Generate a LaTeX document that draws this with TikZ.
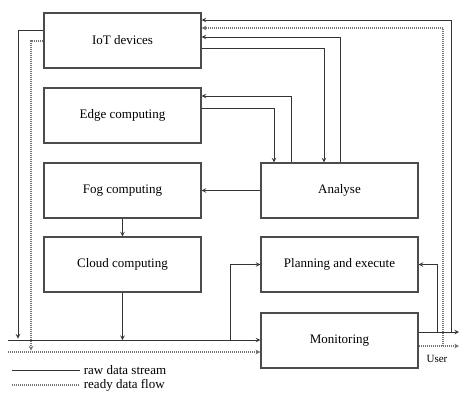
\documentclass[tikz,border=0pt]{standalone}
\usepackage{fontspec}
\setmainfont{Liberation Serif}
\usetikzlibrary{calc}

\begin{document}
\begin{tikzpicture}[x=1pt, y=-1pt,
		box/.style={draw=black!70, line width=1.3pt, minimum width=157pt, minimum height=55pt, font=\fontsize{13}{15}\selectfont},
		raw/.style={draw=black!80, line width=1pt},
		ready/.style={draw=black!55, line width=1.1pt, dash pattern=on 1pt off 1pt},
		>=stealth]
		%%%%% START %%%%%
		
		\useasboundingbox (0,0) rectangle (460,394);
		
		\node[box] (iot) at (122.5, 40.5) {IoT devices};
		\node[box] (edge) at (122.5, 115.5) {Edge computing};
		\node[box] (fog) at (122.5, 190.5) {Fog computing};
		\node[box] (cloud) at (122.5, 264.5) {Cloud computing};
		
		\node[box] (analyse) at (339.5, 190.5) {Analyse};
		\node[box] (plan) at (339.5, 264.5) {Planning and execute};
		\node[box] (mon) at (339.5, 340.5) {Monitoring};
		
		\coordinate (rawin) at (8, 340);
		\coordinate (readyin) at (8, 352);
		\coordinate (rawout) at (459, 332);
		\coordinate (readyout) at (459, 346);
		\node[font=\fontsize{11}{13}\selectfont] (user) at (437, 359) {User};
		
		% inputs of monitoring
		\draw[raw, ->] (rawin) -- (rawin -| mon.west);
		\draw[ready, ->] (readyin) -- (readyin -| mon.west);
		\draw[raw, ->] (iot.west |- 0,30) -| (18, 338.5);
		\draw[ready, ->] (iot.west |- 0,41) -| (31, 350.5);
		\draw[raw, ->] (cloud.south) -- (cloud.south |- rawin);
		\draw[raw, ->] (fog) -- (cloud);
		\draw[raw, ->] (230, 340) |- (plan.west);
		
		% analyse loops
		\draw[raw, ->] (analyse.west) -- (analyse.west -| fog.east);
		\draw[raw, ->] (analyse.north -| 291,0) |- (edge.east |- 0,96);
		\draw[raw, ->] (edge.east |- 0,108) -| (analyse.north -| 274,0);
		\draw[raw, ->] (analyse.north -| 340,0) |- (iot.east |- 0,37);
		\draw[raw, ->] (iot.east |- 0,48) -| (analyse.north -| 324,0);
		
		% outputs to the user
		\draw[raw, ->] (mon.east |- rawout) -- (rawout);
		\draw[ready, ->] (mon.east |- readyout) -- (readyout);
		\draw[raw, ->] (437, 332) |- (plan.east);
		\draw[raw, ->] (451, 332) |- (iot.east |- 0,20);
		\draw[ready, ->] (443, 346) |- (iot.east |- 0,28);
		
		% legend
		\draw[raw] (12, 370) -- (80, 370) node[right, font=\fontsize{13}{15}\selectfont] (rawlbl) {raw data stream};
		\draw[ready] (12, 385) -- (80, 385) node[right, font=\fontsize{13}{15}\selectfont] (readylbl) {ready data flow};
		
		%%%%% END %%%%%
\end{tikzpicture}
\end{document}
